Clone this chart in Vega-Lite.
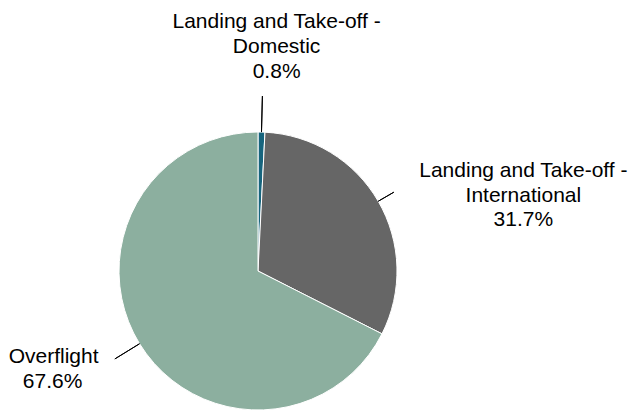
{
  "$schema": "https://vega.github.io/schema/vega-lite/v6.json",
  "autosize": "none",
  "width": 516,
  "height": 278,
  "padding": {"left": 0, "top": 132, "right": 117, "bottom": 0},
  "background": "#ffffff",
  "config": {"view": {"stroke": null}, "text": {"font": "Liberation Sans"}},
  "data": {
    "values": [
      {"category": "Landing and Take-off - Domestic", "label": "Landing and Take-off -\nDomestic", "share": 0.008},
      {"category": "Landing and Take-off - International", "label": "Landing and Take-off -\nInternational", "share": 0.317},
      {"category": "Overflight", "label": "Overflight", "share": 0.676}
    ]
  },
  "layer": [
    {
      "mark": {"type": "arc", "radius": 139, "stroke": "#ffffff", "strokeWidth": 1},
      "encoding": {
        "theta": {"field": "share", "type": "quantitative", "stack": true},
        "color": {
          "field": "category",
          "type": "nominal",
          "scale": {
            "domain": ["Landing and Take-off - Domestic", "Landing and Take-off - International", "Overflight"],
            "range": ["#17657E", "#666666", "#8CAF9F"]
          },
          "legend": null
        }
      }
    },
    {
      "transform": [
        {"stack": "share", "groupby": [], "as": ["s0", "s1"], "sort": [{"field": "category", "order": "ascending"}]},
        {"fold": ["s0", "s1"], "as": ["edge", "pos"]},
        {"aggregate": [{"op": "mean", "field": "pos", "as": "mid"}, {"op": "max", "field": "share", "as": "share"}], "groupby": ["category", "label"]}
      ],
      "layer": [
        {
          "transform": [{"filter": "datum.category === 'Landing and Take-off - Domestic'"}],
          "mark": {"type": "arc", "radius": 175, "radius2": 139, "fill": null, "stroke": "#000000", "strokeWidth": 1},
          "encoding": {"theta": {"field": "mid", "type": "quantitative"}, "theta2": {"field": "mid"}}
        },
        {
          "transform": [{"filter": "datum.category === 'Landing and Take-off - International'"}],
          "mark": {"type": "arc", "radius": 157, "radius2": 139, "fill": null, "stroke": "#000000", "strokeWidth": 1},
          "encoding": {"theta": {"field": "mid", "type": "quantitative"}, "theta2": {"field": "mid"}}
        },
        {
          "transform": [{"filter": "datum.category === 'Overflight'"}],
          "mark": {"type": "arc", "radius": 168, "radius2": 139, "fill": null, "stroke": "#000000", "strokeWidth": 1},
          "encoding": {"theta": {"field": "mid", "type": "quantitative"}, "theta2": {"field": "mid"}}
        },
        {
          "transform": [{"filter": "datum.category === 'Landing and Take-off - Domestic'"}],
          "mark": {"type": "text", "radius": 224, "dx": 13, "dy": -25, "align": "center", "baseline": "middle", "fontSize": 21, "lineHeight": 25, "lineBreak": "\n", "color": "#000000"},
          "encoding": {"theta": {"field": "mid", "type": "quantitative"}, "text": {"field": "label"}}
        },
        {
          "transform": [{"filter": "datum.category === 'Landing and Take-off - Domestic'"}],
          "mark": {"type": "text", "radius": 224, "dx": 13, "dy": 25, "align": "center", "baseline": "middle", "fontSize": 21, "color": "#000000"},
          "encoding": {"theta": {"field": "mid", "type": "quantitative"}, "text": {"field": "share", "type": "quantitative", "format": ".1%"}}
        },
        {
          "transform": [{"filter": "datum.category === 'Landing and Take-off - International'"}],
          "mark": {"type": "text", "radius": 175, "dx": 114, "dy": -12, "align": "center", "baseline": "middle", "fontSize": 21, "lineHeight": 25, "lineBreak": "\n", "color": "#000000"},
          "encoding": {"theta": {"field": "mid", "type": "quantitative"}, "text": {"field": "label"}}
        },
        {
          "transform": [{"filter": "datum.category === 'Landing and Take-off - International'"}],
          "mark": {"type": "text", "radius": 175, "dx": 114, "dy": 37, "align": "center", "baseline": "middle", "fontSize": 21, "color": "#000000"},
          "encoding": {"theta": {"field": "mid", "type": "quantitative"}, "text": {"field": "share", "type": "quantitative", "format": ".1%"}}
        },
        {
          "transform": [{"filter": "datum.category === 'Overflight'"}],
          "mark": {"type": "text", "radius": 200, "dx": -34, "dy": -19, "align": "center", "baseline": "middle", "fontSize": 21, "lineHeight": 25, "lineBreak": "\n", "color": "#000000"},
          "encoding": {"theta": {"field": "mid", "type": "quantitative"}, "text": {"field": "label"}}
        },
        {
          "transform": [{"filter": "datum.category === 'Overflight'"}],
          "mark": {"type": "text", "radius": 200, "dx": -35, "dy": 6, "align": "center", "baseline": "middle", "fontSize": 21, "color": "#000000"},
          "encoding": {"theta": {"field": "mid", "type": "quantitative"}, "text": {"field": "share", "type": "quantitative", "format": ".1%"}}
        }
      ]
    }
  ]
}
